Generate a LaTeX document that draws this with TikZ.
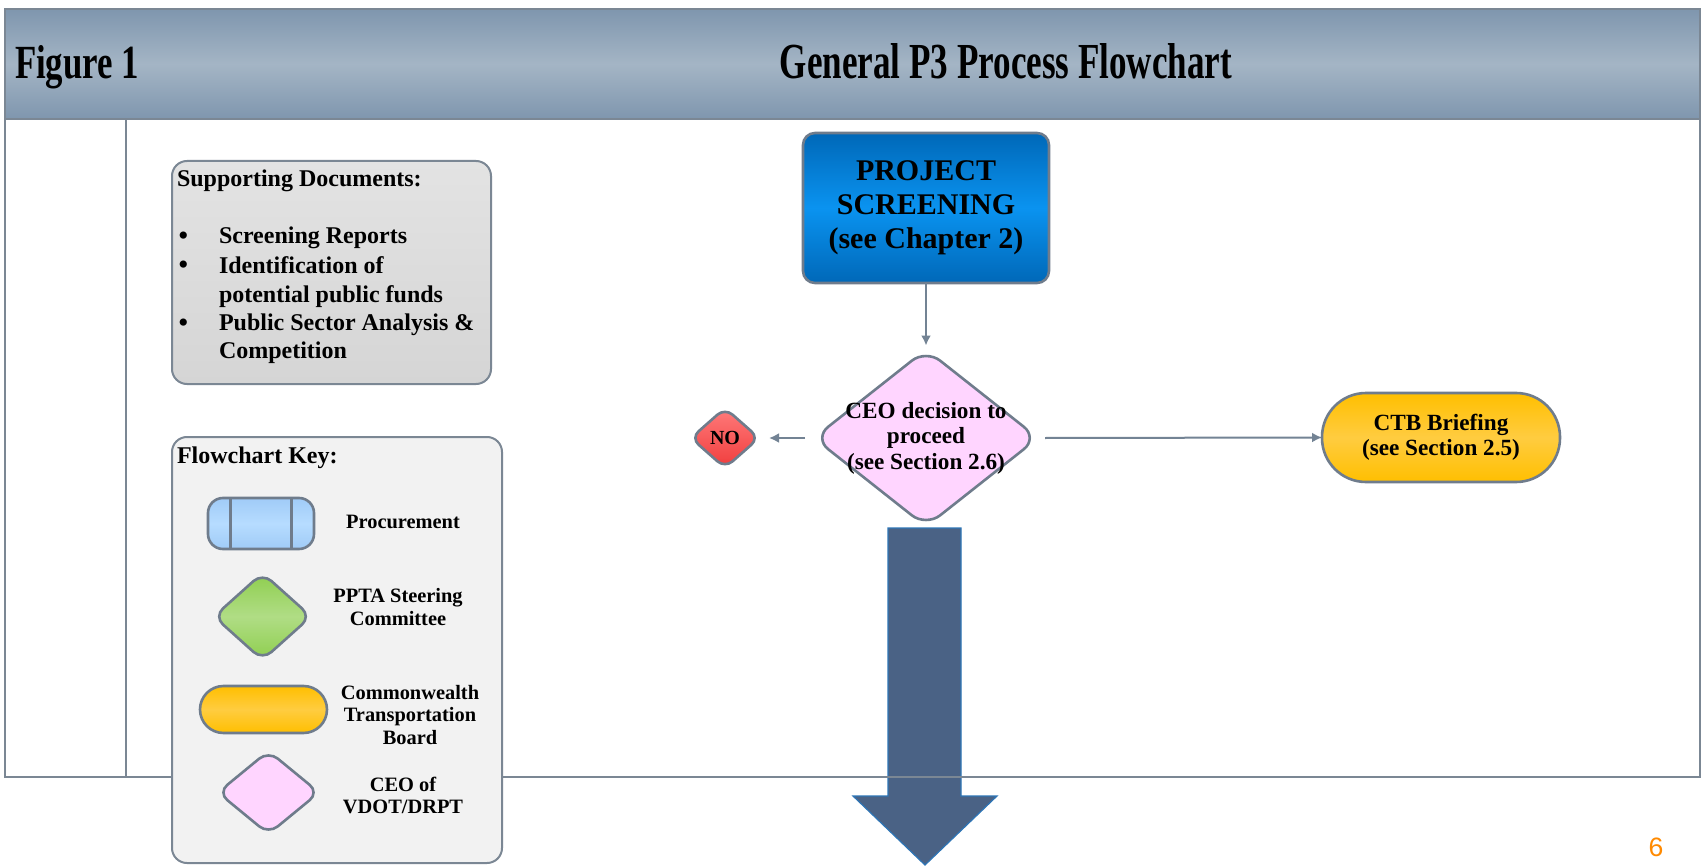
\documentclass[tikz,border=0pt]{standalone}
\usepackage{fontspec}
\setmainfont{Liberation Serif}
\newfontfamily\pagenumfont{Liberation Sans}
\usepackage{graphicx}
\usetikzlibrary{shapes.geometric,arrows.meta}
\definecolor{frameline}{HTML}{7B8794}
\definecolor{shapeline}{HTML}{6F7C8C}
\definecolor{connline}{HTML}{738394}
\definecolor{hdrTop}{HTML}{7F96AE}
\definecolor{hdrMid}{HTML}{A4B5C5}
\definecolor{blueA}{HTML}{0068B8}
\definecolor{blueB}{HTML}{0A93F0}
\definecolor{pinkfill}{HTML}{FFD5FF}
\definecolor{redTop}{HTML}{FF7B7B}
\definecolor{redBot}{HTML}{F03C3C}
\definecolor{orangeA}{HTML}{FFBF00}
\definecolor{orangeB}{HTML}{FFCC40}
\definecolor{greenA}{HTML}{8ECE4E}
\definecolor{greenB}{HTML}{B0DD85}
\definecolor{lblueA}{HTML}{A0CBF7}
\definecolor{lblueB}{HTML}{B6DCFF}
\definecolor{grayA}{HTML}{E3E3E3}
\definecolor{grayB}{HTML}{D5D5D5}
\definecolor{keyfill}{HTML}{F2F2F2}
\definecolor{arrowfill}{HTML}{4A6285}
\definecolor{arrowline}{HTML}{2E75B6}
\definecolor{pageorange}{HTML}{FF8A00}
\newcommand\fSupp{\fontsize{12pt}{14.5pt}\selectfont\bfseries}
\newcommand\fScr{\fontsize{15pt}{17pt}\selectfont\bfseries}
\newcommand\fDec{\fontsize{11.6pt}{12.75pt}\selectfont\bfseries}
\newcommand\fKey{\fontsize{10.2pt}{11.4pt}\selectfont\bfseries}
\newcommand\bigbullet{\raisebox{-1pt}{\fontsize{15pt}{15pt}\selectfont\textbullet}}
\begin{document}
\begin{tikzpicture}[x=0.5pt,y=-0.5pt,
  every node/.style={inner sep=0pt, outer sep=0pt},
  frame/.style={draw=frameline, line width=1pt},
  shapeborder/.style={draw=shapeline, line width=1.3pt},
  conn/.style={draw=connline, line width=1pt, -{Latex[length=5pt,width=5pt]}},
  screenbox/.style={shapeborder, rounded corners=6pt, top color=blueA, bottom color=blueA, middle color=blueB, minimum width=123pt, minimum height=75pt, align=center, font=\fScr},
  pinkdiamond/.style={shapeborder, diamond, fill=pinkfill},
  greendiamond/.style={shapeborder, diamond, rounded corners=6pt, top color=greenA, bottom color=greenA, middle color=greenB},
  reddiamond/.style={shapeborder, diamond, rounded corners=5pt, top color=redTop, bottom color=redBot},
  ctbpill/.style={shapeborder, top color=orangeA, bottom color=orangeA, middle color=orangeB},
  procbox/.style={shapeborder, rounded corners=7.5pt, top color=lblueA, bottom color=lblueA, middle color=lblueB},
  suppbox/.style={draw=frameline, line width=1pt, rounded corners=7.5pt, top color=grayA, bottom color=grayB},
  keybox/.style={draw=frameline, line width=1pt, rounded corners=7.5pt, fill=keyfill},
  keytext/.style={align=center, font=\fKey},
  bigarrow/.style={fill=arrowfill, draw=arrowline, line width=0.6pt}
]
\useasboundingbox (0,0) rectangle (1702,866);
\fill[white] (0,0) rectangle (1702,866);

% header band
\fill[top color=hdrTop, bottom color=hdrTop, middle color=hdrMid] (5,9) rectangle (1700,119);

% big down arrow
\draw[bigarrow] (888,528) -- (961,528) -- (961,796) -- (997,796) -- (925,865) -- (853,796) -- (888,796) -- cycle;

% frame
\draw[frame] (5,9) rectangle (1700,777);
\draw[frame] (5,119) -- (1700,119);
\draw[frame] (126,119) -- (126,777);

% titles
\node[anchor=base west] (fig) at (15,79) {\resizebox{62pt}{16.5pt}{\bfseries Figure 1}};
\node[anchor=base] (title) at (1006,79) {\resizebox{226pt}{17.5pt}{\bfseries General P3 Process Flowchart}};

% supporting documents
\node[suppbox, minimum width=159.5pt, minimum height=111.5pt] (supp) at (331.5,272.5) {};
\node[anchor=base west, font=\fSupp] (supph) at (177,187) {Supporting Documents:};
\node[anchor=base west] (b1) at (178,244) {\bigbullet};
\node[anchor=base west, font=\fSupp] (i1) at (219,244) {Screening Reports};
\node[anchor=base west] (b2) at (178,273) {\bigbullet};
\node[anchor=base west, font=\fSupp] (i2) at (219,273) {Identification of};
\node[anchor=base west, font=\fSupp] (i2b) at (219,302) {potential public funds};
\node[anchor=base west] (b3) at (178,330) {\bigbullet};
\node[anchor=base west, font=\fSupp] (i3) at (219,330) {Public Sector Analysis \&};
\node[anchor=base west, font=\fSupp] (i3b) at (219,358) {Competition};

% flowchart key
\node[keybox, minimum width=165pt, minimum height=213pt] (key) at (337,650) {};
\node[anchor=base west, font=\fSupp] (keyh) at (177,463) {Flowchart Key:};
\node[procbox, minimum width=53pt, minimum height=25.5pt] (kproc) at (261,523.5) {};
\draw[shapeborder] ([xshift=-15.25pt]kproc.north) -- ([xshift=-15.25pt]kproc.south);
\draw[shapeborder] ([xshift=15.25pt]kproc.north) -- ([xshift=15.25pt]kproc.south);
\node[keytext] (kproct) at (403,522) {Procurement};
\node[greendiamond, minimum width=48.5pt, minimum height=43.5pt] (kppta) at (262.5,616.5) {};
\node[keytext] (kpptat) at (398,607) {PPTA Steering\\Committee};
\node[ctbpill, rounded corners=11.75pt, minimum width=63.5pt, minimum height=23.5pt] (kctb) at (263.5,709.5) {};
\node[keytext] (kctbt) at (410,715) {Commonwealth\\Transportation\\Board};
\node[pinkdiamond, rounded corners=6pt, minimum width=50.5pt, minimum height=41.5pt] (kceo) at (268.5,792.5) {};
\node[keytext] (kceot) at (403,795.5) {CEO of\\VDOT/DRPT};

% main flow
\node[screenbox] (scr) at (926,208) {PROJECT\\SCREENING\\(see Chapter 2)};
\node[pinkdiamond, rounded corners=9pt, minimum width=112pt, minimum height=88.5pt] (ceo) at (926,438) {};
\node[align=center, font=\fDec] (ceot) at (926,438) {CEO decision to\\proceed\\(see Section 2.6)};
\node[reddiamond, minimum width=34pt, minimum height=30pt, font=\fontsize{10pt}{11pt}\selectfont\bfseries] (no) at (725,438) {NO};
\node[ctbpill, rounded corners=22pt, minimum width=119pt, minimum height=44.5pt, align=center, font=\fDec] (ctb) at (1441,437.5) {CTB Briefing\\(see Section 2.5)};

\draw[conn, shorten >=2pt] (scr.south) -- (ceo.north);
\draw[conn] ([xshift=-4.5pt]ceo.west) -- ([xshift=5pt]no.east);
\draw[conn] ([xshift=3.5pt]ceo.east) -- (ctb.west);

% page number
\node[font=\pagenumfont\fontsize{13.3pt}{14pt}\selectfont, text=pageorange] (page) at (1656,847) {6};
\end{tikzpicture}
\end{document}
